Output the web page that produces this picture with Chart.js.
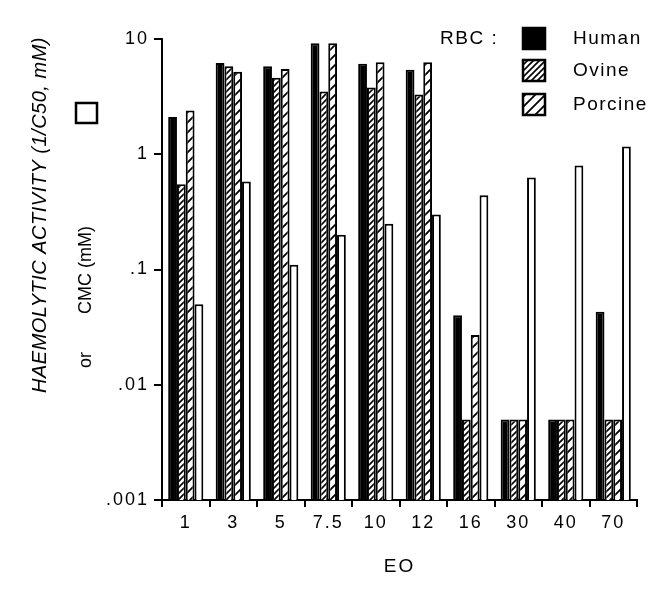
<!DOCTYPE html>
<html>
<head>
<meta charset="utf-8">
<script src="https://cdn.jsdelivr.net/npm/chart.js@4"></script>
<style>
  body { margin: 0; background: #fff; }
</style>
</head>
<body>
<canvas id="haemoChart" width="662" height="593"></canvas>
<script>
/*
 * Data (log scale)
 */
const eoLabels = ['1', '3', '5', '7.5', '10', '12', '16', '30', '40', '70'];
const humanValues   = [2.1, 6.2, 5.8, 9.2, 6.1, 5.4, 0.04, 0.005, 0.005, 0.043];
const ovineValues   = [0.55, 5.8, 4.6, 3.5, 3.8, 3.3, 0.005, 0.005, 0.005, 0.005];
const porcineValues = [2.4, 5.2, 5.5, 9.2, 6.3, 6.3, 0.027, 0.005, 0.005, 0.005];
const cmcValues     = [0.05, 0.58, 0.11, 0.2, 0.25, 0.30, 0.44, 0.63, 0.8, 1.17];
const yTickValues = [0.001, 0.01, 0.1, 1, 10];
const yTickText = {0.001: '.001', 0.01: '.01', 0.1: '.1', 1: '1', 10: '10'};
const legendNames = ['Human', 'Ovine', 'Porcine'];

const FONT = '"Liberation Sans", Arial, sans-serif';

// Diagonal hatch fill for the sheep / pig bars
function makeHatch(size, lineWidth) {
    const c = document.createElement('canvas');
    c.width = size;
    c.height = size;
    const g = c.getContext('2d');
    g.fillStyle = '#fff';
    g.fillRect(0, 0, size, size);
    g.strokeStyle = '#000';
    g.lineWidth = lineWidth;
    g.beginPath();
    g.moveTo(-1, size + 1);
    g.lineTo(size + 1, -1);
    g.moveTo(-size / 2, size / 2);
    g.lineTo(size / 2, -size / 2);
    g.moveTo(size / 2, size * 1.5);
    g.lineTo(size * 1.5, size / 2);
    g.stroke();
    return g.createPattern(c, 'repeat');
}

const ovineFill = makeHatch(6, 1.6);
const porcineFill = makeHatch(10, 1.8);

// old typewriter-ish spacing of the figure's numbers
const spacingPlugin = {
    id: 'letterSpacing',
    beforeDraw: (chart) => { chart.ctx.letterSpacing = '2px'; },
    afterDraw: (chart) => { chart.ctx.letterSpacing = '0px'; }
};

// Y-axis titles and the RBC legend, drawn on top of the chart
const annotationsPlugin = {
    id: 'figureText',
    afterDraw: (chart) => {
        const {ctx} = chart;
        ctx.save();
        ctx.fillStyle = '#000';
        ctx.strokeStyle = '#000';
        ctx.letterSpacing = '0px';

        // rotated axis titles
        ctx.save();
        ctx.translate(40, 215);
        ctx.rotate(-Math.PI / 2);
        ctx.font = 'italic 20px ' + FONT;
        ctx.letterSpacing = '0.5px';
        ctx.textAlign = 'center';
        ctx.textBaseline = 'middle';
        ctx.fillText('HAEMOLYTIC ACTIVITY (1/C50, mM)', 0, 0);
        ctx.restore();

        ctx.save();
        ctx.translate(86, 270);
        ctx.rotate(-Math.PI / 2);
        ctx.font = '18px ' + FONT;
        ctx.textAlign = 'center';
        ctx.textBaseline = 'middle';
        ctx.fillText('CMC (mM)', 0, 0);
        ctx.fillText('or', -90, 0);
        ctx.restore();

        ctx.lineWidth = 2.5;
        ctx.strokeRect(76, 103, 21, 20);

        // legend
        ctx.font = '19px ' + FONT;
        ctx.letterSpacing = '1.5px';
        ctx.textBaseline = 'middle';
        ctx.textAlign = 'left';
        ctx.fillText('RBC :', 440, 39);
        const fills = ['#000', ovineFill, porcineFill];
        const rows = [39, 71, 105];
        for (let i = 0; i < legendNames.length; i++) {
            ctx.fillStyle = fills[i];
            ctx.fillRect(523, rows[i] - 11, 22, 21);
            ctx.lineWidth = 2.5;
            ctx.strokeRect(523, rows[i] - 11, 22, 21);
            ctx.fillStyle = '#000';
            ctx.fillText(legendNames[i], 573, rows[i]);
        }
        ctx.restore();
    }
};

const barCommon = {
    borderColor: '#000',
    borderWidth: 2,
    categoryPercentage: 0.74,
    barPercentage: 1.0
};

new Chart(document.getElementById('haemoChart'), {
    type: 'bar',
    data: {
        labels: eoLabels,
        datasets: [
            Object.assign({label: 'Human', data: humanValues, backgroundColor: '#000'}, barCommon),
            Object.assign({label: 'Ovine', data: ovineValues, backgroundColor: ovineFill}, barCommon),
            Object.assign({label: 'Porcine', data: porcineValues, backgroundColor: porcineFill}, barCommon),
            Object.assign({label: 'CMC', data: cmcValues, backgroundColor: '#fff'}, barCommon)
        ]
    },
    options: {
        responsive: false,
        animation: false,
        devicePixelRatio: 1,
        layout: {
            padding: {left: 0, right: 25, top: 39, bottom: 0}
        },
        plugins: {
            legend: {display: false},
            tooltip: {enabled: false}
        },
        scales: {
            x: {
                grid: {
                    offset: true,
                    drawOnChartArea: false,
                    drawTicks: true,
                    tickLength: 7,
                    color: '#000',
                    lineWidth: 2
                },
                border: {color: '#000', width: 2},
                ticks: {
                    color: '#000',
                    font: {family: FONT, size: 18},
                    padding: 5,
                    maxRotation: 0
                },
                title: {
                    display: true,
                    text: 'EO',
                    color: '#000',
                    font: {family: FONT, size: 19},
                    padding: {top: 0, bottom: 15}
                },
                afterFit: (scale) => { scale.height = 93; }
            },
            y: {
                type: 'logarithmic',
                min: 0.001,
                max: 10,
                afterBuildTicks: (scale) => {
                    scale.ticks = yTickValues.map(v => ({value: v}));
                },
                grid: {
                    drawOnChartArea: false,
                    drawTicks: true,
                    tickLength: 8,
                    color: '#000',
                    lineWidth: 2
                },
                border: {color: '#000', width: 2},
                ticks: {
                    color: '#000',
                    font: {family: FONT, size: 18},
                    padding: 5,
                    callback: (value) => yTickText[value] || ''
                },
                afterFit: (scale) => { scale.width = 162; }
            }
        }
    },
    plugins: [spacingPlugin, annotationsPlugin]
});
</script>
</body>
</html>
